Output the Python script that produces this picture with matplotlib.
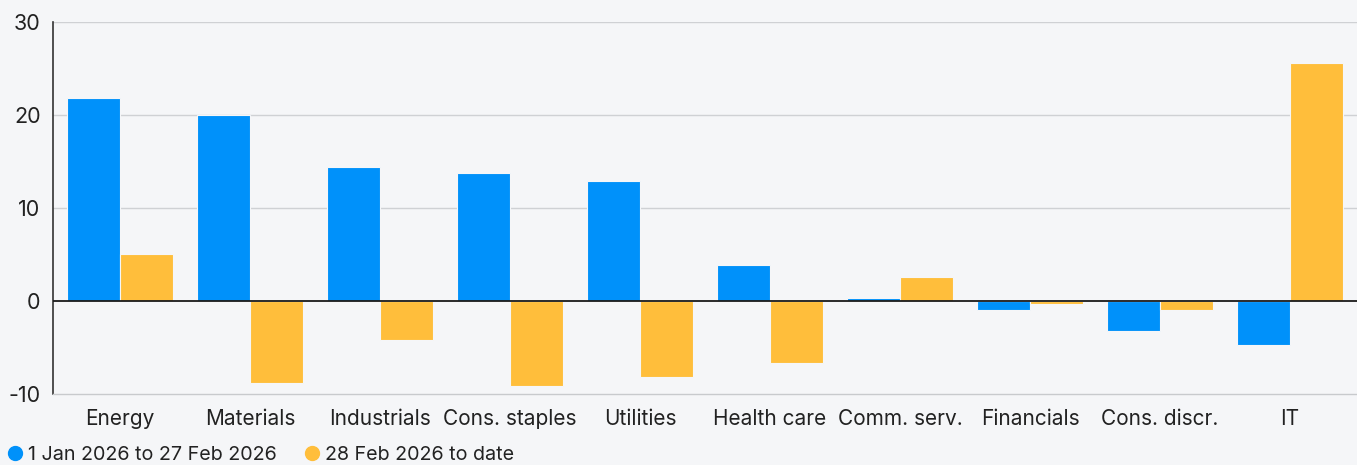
import matplotlib
matplotlib.use("Agg")
import matplotlib.pyplot as plt
import numpy as np
from matplotlib.lines import Line2D

categories = ["Energy", "Materials", "Industrials", "Cons. staples", "Utilities",
              "Health care", "Comm. serv.", "Financials", "Cons. discr.", "IT"]
series1_name = "1 Jan 2026 to 27 Feb 2026"
series2_name = "28 Feb 2026 to date"
series1 = [21.8, 20.0, 14.4, 13.8, 12.9, 3.9, 0.3, -1.0, -3.2, -4.7]
series2 = [5.05, -8.8, -4.2, -9.1, -8.2, -6.7, 2.6, -0.3, -1.0, 25.6]
yticks = [-10, 0, 10, 20, 30]

BG = "#f5f6f8"
BLUE = "#0091fa"
YELLOW = "#ffbe3b"
TEXT = "#222222"

plt.rcParams['font.family'] = ['Inter', 'DejaVu Sans']

fig = plt.figure(figsize=(13.57, 4.65), dpi=100, facecolor=BG)
ax = fig.add_axes([53/1357, (465-394)/465, 1304/1357, 372/465])
ax.set_facecolor(BG)

x = np.arange(len(categories))
w = 0.405
ax.bar(x - w/2, series1, width=w, color=BLUE, edgecolor=BG, linewidth=0.8, zorder=3)
ax.bar(x + w/2, series2, width=w, color=YELLOW, edgecolor=BG, linewidth=0.8, zorder=3)

ax.set_xlim(-0.515, len(categories) - 1 + 0.515)
ax.set_ylim(-10, 30)
ax.set_yticks(yticks)
ax.set_yticklabels([str(v) for v in yticks], fontsize=15.5, color=TEXT)
ax.set_xticks(x)
ax.set_xticklabels(categories, fontsize=15, color=TEXT)
ax.tick_params(axis='both', length=0)
ax.tick_params(axis='x', pad=11)
ax.tick_params(axis='y', pad=9)

for v in [10, 20, 30]:
    ax.axhline(v, color="#cfd1d4", linewidth=1.0, zorder=1)
ax.axhline(0, color="#1a1a1a", linewidth=1.3, zorder=4)

for s in ['top', 'right']:
    ax.spines[s].set_visible(False)
ax.spines['bottom'].set_color("#c8cacd")
ax.spines['bottom'].set_linewidth(1.0)
ax.spines['left'].set_color("#333333")
ax.spines['left'].set_linewidth(1.2)

handles = [Line2D([0], [0], marker='o', color='none', markerfacecolor=BLUE, markeredgecolor=BLUE, markersize=10),
           Line2D([0], [0], marker='o', color='none', markerfacecolor=YELLOW, markeredgecolor=YELLOW, markersize=10)]
leg = fig.legend(handles, [series1_name, series2_name], loc='lower left',
                 bbox_to_anchor=(-0.008, -0.035), ncol=2, frameon=False,
                 fontsize=14.2, handlelength=0.8, handletextpad=0.25, columnspacing=1.4)
for t in leg.get_texts():
    t.set_color(TEXT)

fig.savefig("out.png", dpi=100, facecolor=BG)
